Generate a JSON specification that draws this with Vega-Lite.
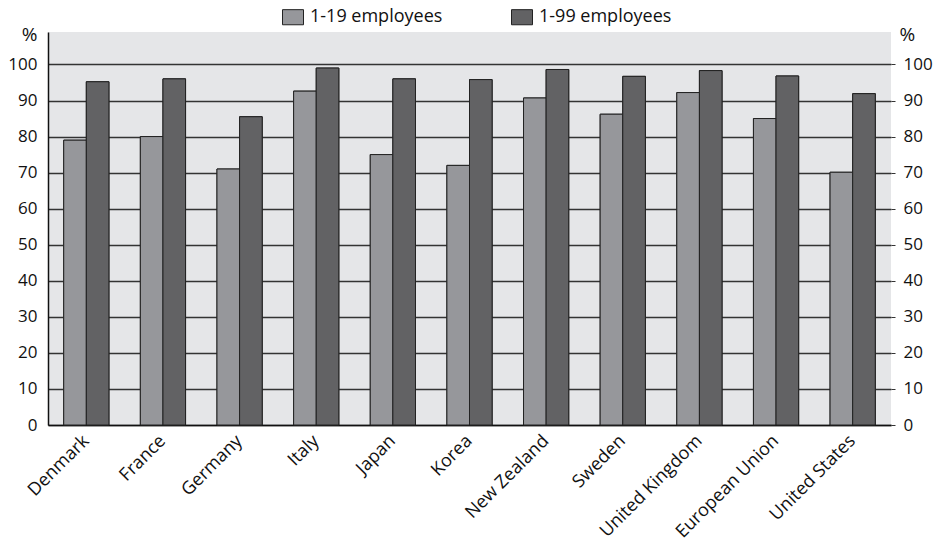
{
  "$schema": "https://vega.github.io/schema/vega-lite/v6.json",
  "autosize": {"type": "none"},
  "width": 843,
  "height": 393,
  "padding": {"left": 48, "top": 32, "right": 53, "bottom": 122},
  "background": "white",
  "config": {
    "font": "Open Sans",
    "view": {"fill": "#e5e6e8", "stroke": null},
    "axis": {"labelFont": "Open Sans", "labelColor": "#111", "titleColor": "#111", "titleFont": "Open Sans", "titleFontWeight": "normal"}
  },
  "data": {
    "values": [
      {"country": "Denmark", "group": "1-19 employees", "value": 79},
      {"country": "Denmark", "group": "1-99 employees", "value": 95.2},
      {"country": "France", "group": "1-19 employees", "value": 80},
      {"country": "France", "group": "1-99 employees", "value": 96},
      {"country": "Germany", "group": "1-19 employees", "value": 71},
      {"country": "Germany", "group": "1-99 employees", "value": 85.5},
      {"country": "Italy", "group": "1-19 employees", "value": 92.6},
      {"country": "Italy", "group": "1-99 employees", "value": 99},
      {"country": "Japan", "group": "1-19 employees", "value": 75},
      {"country": "Japan", "group": "1-99 employees", "value": 96},
      {"country": "Korea", "group": "1-19 employees", "value": 72},
      {"country": "Korea", "group": "1-99 employees", "value": 95.8},
      {"country": "New Zealand", "group": "1-19 employees", "value": 90.7},
      {"country": "New Zealand", "group": "1-99 employees", "value": 98.6},
      {"country": "Sweden", "group": "1-19 employees", "value": 86.2},
      {"country": "Sweden", "group": "1-99 employees", "value": 96.7},
      {"country": "United Kingdom", "group": "1-19 employees", "value": 92.2},
      {"country": "United Kingdom", "group": "1-99 employees", "value": 98.3},
      {"country": "European Union", "group": "1-19 employees", "value": 85},
      {"country": "European Union", "group": "1-99 employees", "value": 96.8},
      {"country": "United States", "group": "1-19 employees", "value": 70.1},
      {"country": "United States", "group": "1-99 employees", "value": 91.9}
    ]
  },
  "encoding": {
    "x": {
      "field": "country", "type": "nominal", "sort": null,
      "scale": {"paddingInner": 0.41, "paddingOuter": 0.205},
      "axis": {"title": null, "labelAngle": -45, "labelFontSize": 18, "labelPadding": 13, "ticks": false, "domainColor": "#111", "domainWidth": 1.5, "labelAlign": "right", "labelBaseline": "middle"}
    },
    "xOffset": {"field": "group", "type": "nominal", "scale": {"paddingInner": 0, "paddingOuter": 0}},
    "y": {
      "field": "value", "type": "quantitative",
      "scale": {"domain": [0, 109], "nice": false, "zero": true}
    },
    "color": {
      "field": "group", "type": "nominal",
      "scale": {"domain": ["1-19 employees", "1-99 employees"], "range": ["#96979b", "#626264"]},
      "legend": {"title": null, "orient": "none", "legendX": 234, "legendY": -26, "direction": "horizontal", "labelFontSize": 18, "labelColor": "#111", "symbolType": "M-1,-0.72H1V0.72H-1Z", "symbolSize": 441, "symbolStrokeColor": "#222", "symbolStrokeWidth": 1, "symbolOpacity": 1, "columnPadding": 66, "labelOffset": 6}
    }
  },
  "layer": [
    {
      "mark": {"type": "bar", "stroke": "#222", "strokeWidth": 1},
      "encoding": {
        "y": {
          "field": "value", "type": "quantitative",
          "scale": {"domain": [0, 109], "nice": false, "zero": true},
          "axis": {"orient": "left", "title": "%", "titleAngle": 0, "titleAlign": "right", "titleBaseline": "bottom", "titleX": -11, "titleY": 12, "titleFontSize": 19, "values": [0, 10, 20, 30, 40, 50, 60, 70, 80, 90, 100], "labelFontSize": 17, "labelPadding": 11, "ticks": false, "domainColor": "#111", "domainWidth": 1.5, "grid": true, "gridColor": "#333", "gridWidth": 1.3, "gridOpacity": 1}
        }
      }
    },
    {
      "mark": {"type": "bar", "stroke": "#222", "strokeWidth": 1},
      "encoding": {
        "y": {
          "field": "value", "type": "quantitative",
          "scale": {"domain": [0, 109], "nice": false, "zero": true},
          "axis": {"orient": "right", "title": "%", "titleAngle": 0, "titleAlign": "left", "titleBaseline": "bottom", "titleX": 8, "titleY": 12, "titleFontSize": 19, "values": [0, 10, 20, 30, 40, 50, 60, 70, 80, 90, 100], "labelFontSize": 17, "labelPadding": 8, "ticks": true, "tickSize": 4, "tickColor": "#333", "domain": false, "grid": false}
        }
      }
    }
  ],
  "resolve": {"axis": {"y": "independent"}}
}
